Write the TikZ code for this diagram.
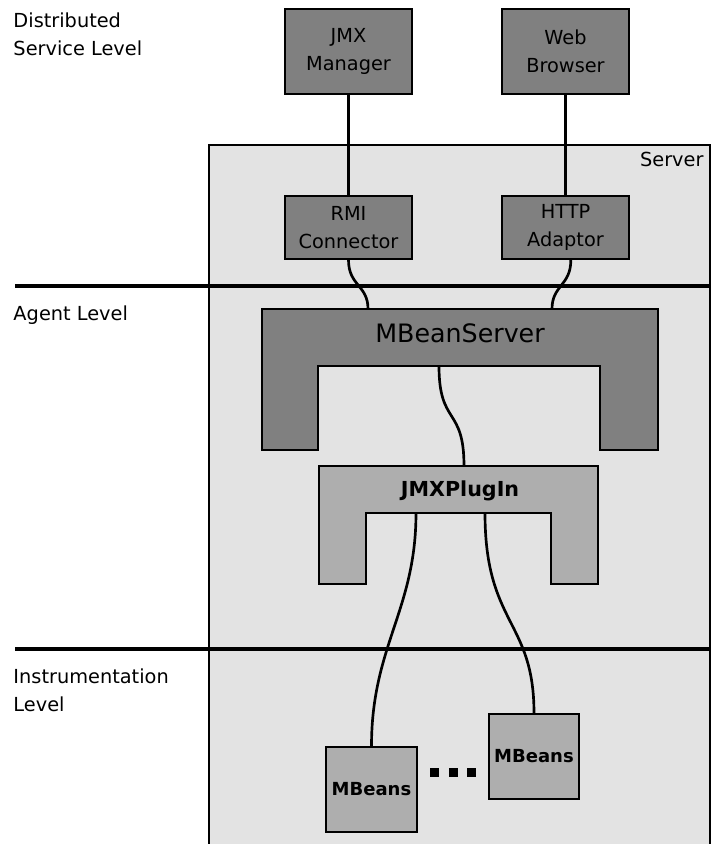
\documentclass[tikz,border=0pt]{standalone}
\usepackage{fontspec}
\setmainfont{DejaVu Sans}
\definecolor{srvgray}{RGB}{227,227,227}
\definecolor{darkgray}{RGB}{128,128,128}
\definecolor{midgray}{RGB}{174,174,174}

\tikzset{every picture/.style={line width=0.75pt}}
\tikzset{
  darkbox/.style={draw=black, line width=1.4pt, fill=darkgray, inner sep=0pt, align=center,
    font=\fontsize{14.5}{21}\selectfont},
  lightbox/.style={draw=black, line width=1.4pt, fill=midgray, inner sep=0pt, align=center,
    font=\fontsize{13.5}{20}\selectfont\bfseries},
  levelline/.style={line width=2.6pt},
  link/.style={line width=2pt},
  lvltext/.style={anchor=north west, inner sep=0pt, align=left, font=\fontsize{14.5}{21}\selectfont}
}

\begin{document}
\begin{tikzpicture}[x=0.75pt,y=0.75pt,yscale=-1,xscale=1]
\useasboundingbox (0,0) rectangle (711,844);

%Shape: Server background
\draw [line width=1.4pt, fill=srvgray] (209,145) rectangle (710,850) ;

%Straight Lines: level separators
\draw [levelline] (15,286) -- (711,286) ;
\draw [levelline] (15,649) -- (711,649) ;

%Shape: MBeanServer
\draw [line width=1.4pt, fill=darkgray] (262,309) -- (658,309) -- (658,450) -- (600,450) -- (600,366) -- (318,366) -- (318,450) -- (262,450) -- cycle ;
\coordinate (mbsL) at (368,309);
\coordinate (mbsR) at (552,309);
\coordinate (mbsIn) at (439,366);
% Text Node
\node (mbsText) at (460,333) [inner sep=0pt, font=\fontsize{19}{22}\selectfont] {MBeanServer};

%Shape: JMXPlugIn
\draw [line width=1.4pt, fill=midgray] (319,466) -- (598,466) -- (598,584) -- (551,584) -- (551,513) -- (366,513) -- (366,584) -- (319,584) -- cycle ;
\coordinate (plugTop) at (464,466);
\coordinate (plugL) at (416,513);
\coordinate (plugR) at (485,513);
% Text Node
\node (plugText) at (460,491) [inner sep=0pt, font=\fontsize{15.5}{20}\selectfont\bfseries] {JMXPlugIn};

% Boxes
\node [darkbox, minimum width=95.25pt, minimum height=63.75pt] (jmx) at (348.5,51.5) {JMX\\Manager};
\node [darkbox, minimum width=95.25pt, minimum height=63.75pt] (web) at (565.5,51.5) {Web\\Browser};
\node [darkbox, minimum width=95.25pt, minimum height=47.25pt] (rmi) at (348.5,227.5) {RMI\\Connector};
\node [darkbox, minimum width=95.25pt, minimum height=47.25pt] (http) at (565.5,227.5) {HTTP\\Adaptor};
\node [lightbox, minimum width=68.25pt, minimum height=63.75pt] (beanA) at (371.5,789.5) {MBeans};
\node [lightbox, minimum width=67.5pt, minimum height=63.75pt] (beanB) at (534,756.5) {MBeans};

% Links
\draw [link] (jmx) -- (rmi) ;
\draw [link] (web) -- (http) ;
\draw [link] (rmi.south) .. controls +(0,26) and +(0,-24) .. (mbsL) ;
\draw [link] ([xshift=4pt]http.south) .. controls +(0,26) and +(0,-24) .. (mbsR) ;
\draw [link] (mbsIn) .. controls (439,426) and (464,406) .. (plugTop) ;
\draw [link] (plugL) .. controls (416,610) and ([yshift=-75pt]beanA.north) .. (beanA.north) ;
\draw [link] (plugR) .. controls (485,625) and ([yshift=-70pt]beanB.north) .. (beanB.north) ;

% Dots between the MBeans
\foreach \dx in {0,18.5,37} {
  \fill ([xshift=\dx*0.75pt]430,768) rectangle ++(9,9) ;
}

% Text Node
\node [lvltext] (distLvl) at (13,12) {Distributed\\Service Level};
% Text Node
\node [lvltext] (agentLvl) at (13,305) {Agent Level};
% Text Node
\node [lvltext] (instrLvl) at (13,668) {Instrumentation\\Level};
% Text Node
\node [anchor=north east, inner sep=0pt, font=\fontsize{14.5}{21}\selectfont] (srvText) at (704,152) {Server};

\end{tikzpicture}
\end{document}
